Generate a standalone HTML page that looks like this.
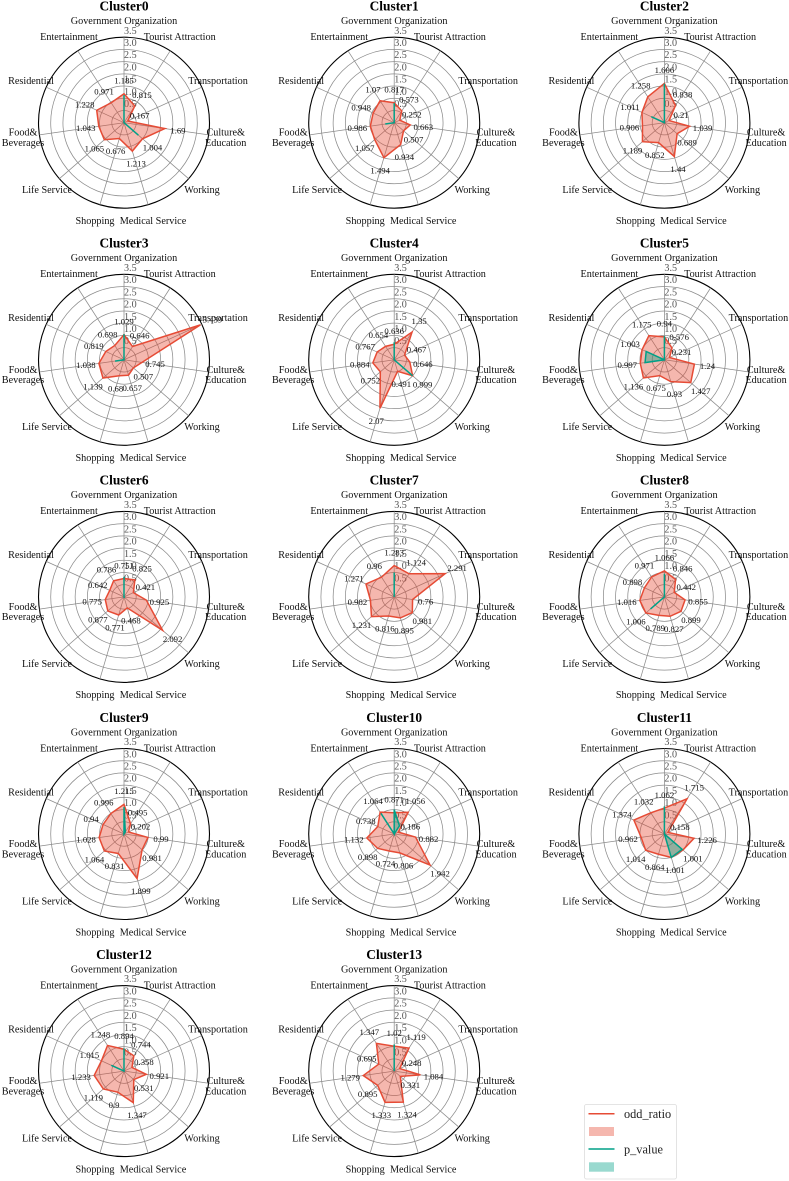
<!DOCTYPE html>
<html lang="en">
<head>
<meta charset="utf-8">
<title>Cluster radar charts</title>
<style>
html,body{margin:0;padding:0;background:#fff;}
body{width:789px;height:1181px;overflow:hidden;}
svg{display:block;}
text{font-family:"Liberation Serif",serif;}
</style>
</head>
<body>
<svg id="chart" xmlns="http://www.w3.org/2000/svg" width="789" height="1181" viewBox="0 0 789 1181">
  <g id="panels"></g>
  <g id="legend">
    <rect x="584.5" y="1104.5" width="92" height="74.5" rx="2" fill="#fff" stroke="#dcdcdc" stroke-width="0.8"/>
    <line x1="588.5" x2="614.5" y1="1113.7" y2="1113.7" stroke="#E64B35" stroke-width="1.5"/>
    <text x="624" y="1118" font-size="12.3" fill="#222">odd_ratio</text>
    <rect x="589" y="1127" width="25" height="9" fill="#E64B35" fill-opacity="0.4"/>
    <line x1="588.5" x2="614.5" y1="1149" y2="1149" stroke="#00A087" stroke-width="1.5"/>
    <text x="624" y="1153.5" font-size="12.3" fill="#222">p_value</text>
    <rect x="589" y="1162.3" width="25" height="9.4" fill="#00A087" fill-opacity="0.4"/>
  </g>
</svg>
<script>
const categories = ["Government Organization","Tourist Attraction","Transportation","Culture&\nEducation","Working","Medical Service","Shopping","Life Service","Food&\nBeverages","Residential","Entertainment"];
const radialTicks = [0.5,1.0,1.5,2.0,2.5,3.0,3.5];
const clusterNames = ["Cluster0","Cluster1","Cluster2","Cluster3","Cluster4","Cluster5","Cluster6","Cluster7","Cluster8","Cluster9","Cluster10","Cluster11","Cluster12","Cluster13"];
const oddRatio = [
  [1.185,0.815,0.167,1.69,1.004,1.213,0.676,1.065,1.043,1.228,0.971],
  [0.817,0.573,0.252,0.663,0.507,0.934,1.494,1.057,0.986,0.948,1.07],
  [1.606,0.838,0.21,1.039,0.689,1.44,0.852,1.189,0.906,1.011,1.258],
  [1.029,0.646,3.439,0.745,0.507,0.657,0.68,1.139,1.038,0.819,0.698],
  [0.636,1.35,0.467,0.646,0.999,0.491,2.07,0.752,0.884,0.767,0.654],
  [0.94,0.576,0.231,1.24,1.427,0.93,0.675,1.136,0.997,1.003,1.175],
  [0.751,0.825,0.421,0.925,2.092,0.468,0.771,0.877,0.775,0.642,0.786],
  [1.283,1.124,2.291,0.76,0.981,0.895,0.816,1.231,0.982,1.271,0.96],
  [1.066,0.846,0.442,0.855,0.899,0.827,0.789,1.006,1.016,0.898,0.971],
  [1.215,0.495,0.202,0.99,0.981,1.899,0.831,1.064,1.028,0.94,0.996],
  [0.871,1.056,0.186,0.882,1.942,0.806,0.724,0.898,1.132,0.738,1.064],
  [1.062,1.715,0.158,1.226,1.001,1.001,0.864,1.014,0.962,1.374,1.032],
  [0.894,0.744,0.358,0.921,0.531,1.347,0.9,1.119,1.233,1.015,1.248],
  [1.02,1.119,0.248,1.084,0.331,1.324,1.333,0.895,1.279,0.695,1.347]
];
const pValue = [
  [1.13,0,0,0,0.78,0,0,0,0,0,0],
  [0.8,0,0,0,0,0,0,0,0.37,0,0],
  [1.6,0,0,0,0,0,0,0,0,0.59,0],
  [1.05,0,0,0,0,0,0,0,0.37,0,0],
  [0.72,0,0,0,1.0,0,0,0,0,0,0],
  [0.97,0,0,0,0,0,0,0,0.8,0.82,0],
  [0.82,0,0,0,0,0.05,0,0,0,0,0],
  [1.0,0,0,0,0,0,0,0,0,0,0],
  [0.95,0,0,0,0,0,0,0.75,0,0,0],
  [1.1,0.1,0,0,0,0,0,0,0,0,0],
  [1.0,0.4,0,0,0,0,0,0,0,0,1.0],
  [1.13,0,0,0,0.96,1.0,0,0,0,0,0],
  [0.93,0,0,0,0,0,0,0,0,0.57,0],
  [1.09,0,0,0,0,0,0,0,0,0,0]
];

const SVG_NS = "http://www.w3.org/2000/svg";
const COLUMN_X = 124, COLUMN_STEP = 270.2, ROW_Y = 122.7, ROW_STEP = 237.1;
const OUTER_RADIUS = 85.5, AXIS_MAX = 3.5;
const LABEL_OFFSET = 0.54;
const categoryLayout = [[0,-102],[55.7,-86],[94,-42],[101.7,9.7],[78,67],[29,98],[-29,98],[-77,67],[-101,9.7],[-93,-42],[-55,-86]];

function radiusScale(v){ return v / AXIS_MAX * OUTER_RADIUS; }
function angleOf(i){ return i * 2 * Math.PI / categories.length; }
function polarX(cx, i, v){ return cx + radiusScale(v) * Math.sin(angleOf(i)); }
function polarY(cy, i, v){ return cy - radiusScale(v) * Math.cos(angleOf(i)); }
function make(tag, attrs, parent){
  const el = document.createElementNS(SVG_NS, tag);
  for (const k in attrs) el.setAttribute(k, attrs[k]);
  parent.appendChild(el);
  return el;
}
function polyPoints(cx, cy, values){
  return values.map((v,i)=>polarX(cx,i,v).toFixed(2)+","+polarY(cy,i,v).toFixed(2)).join(" ");
}

const panels = document.getElementById("panels");
clusterNames.forEach((name, c) => {
  const col = c % 3, row = Math.floor(c / 3);
  const cx = COLUMN_X + col * COLUMN_STEP;
  const cy = ROW_Y + row * ROW_STEP;
  const g = make("g", {}, panels);
  
  

  const title = make("text", {x:cx, y:cy-112.2, "text-anchor":"middle", "font-size":13.4, "font-weight":"bold", fill:"#000"}, g);
  title.textContent = name;
  
  

  radialTicks.forEach(t => {
    const ring = make("circle", {cx:cx, cy:cy, r:radiusScale(t), fill:"none",
      stroke: t === AXIS_MAX ? "#000" : "#8c8c8c", "stroke-width": t === AXIS_MAX ? 1.1 : 0.75}, g);
    
    
  });

  categories.forEach((cat, i) => {
    const spoke = make("line", {x1:cx, y1:cy, x2:polarX(cx,i,AXIS_MAX), y2:polarY(cy,i,AXIS_MAX), stroke:"#8c8c8c", "stroke-width":0.75}, g);
    
    
  });

  radialTicks.forEach(t => {
    const tick = make("text", {x:cx, y:cy-radiusScale(t)-3.4, "font-size":10.1, fill:"#555"}, g);
    tick.textContent = t.toFixed(1);
    
    
  });

  categories.forEach((cat, i) => {
    const pos = categoryLayout[i];
    const label = make("text", {x:cx+pos[0], y:cy+pos[1]+3.3, "text-anchor":"middle", "font-size":10.2, fill:"#111"}, g);
    
    
    cat.split("\n").forEach((part, k) => {
      const span = make("tspan", {x:cx+pos[0], dy: k === 0 ? 0 : 10.3}, label);
      span.textContent = part;
    });
  });

  const oddShape = make("polygon", {points:polyPoints(cx,cy,oddRatio[c]), fill:"#E64B35", "fill-opacity":0.4, stroke:"#E64B35", "stroke-width":1.5, "stroke-linejoin":"miter"}, g);
  
  

  const pShape = make("polygon", {points:polyPoints(cx,cy,pValue[c])+" "+cx+","+cy, fill:"#00A087", "fill-opacity":0.4, stroke:"#00A087", "stroke-width":1.5, "stroke-linejoin":"miter"}, g);
  
  

  oddRatio[c].forEach((v, i) => {
    const valueLabel = make("text", {x:polarX(cx,i,v+LABEL_OFFSET), y:polarY(cy,i,v+LABEL_OFFSET)+2.9, "text-anchor":"middle", "font-size":8.7, fill:"#111"}, g);
    valueLabel.textContent = String(v);
    
    
  });
});
</script>
</body>
</html>
